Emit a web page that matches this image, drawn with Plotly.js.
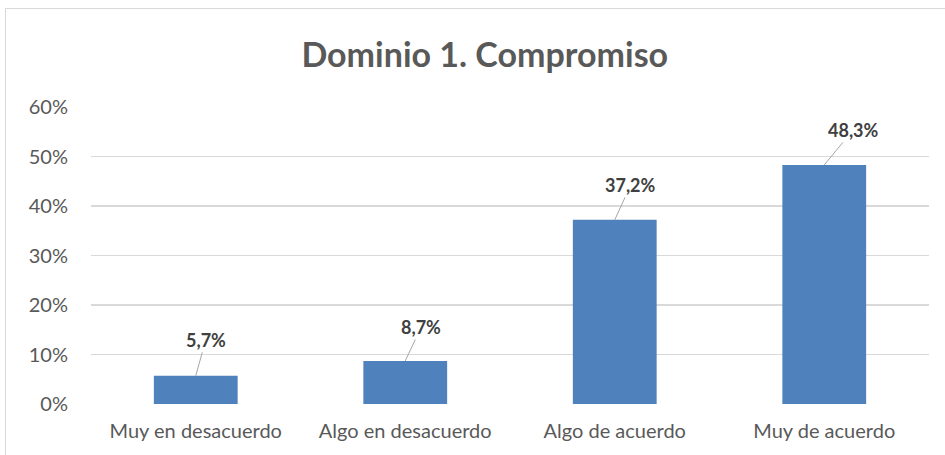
<!DOCTYPE html>
<html>
<head>
<meta charset="utf-8">
<script src="https://cdn.plot.ly/plotly-3.0.1.min.js"></script>
<style>
html,body{margin:0;padding:0;background:#fff;}
#wrap{position:absolute;left:0;top:0;width:945px;height:455px;overflow:hidden;}
#frame{position:absolute;left:5px;top:8px;width:960px;height:470px;border-left:1.5px solid #D9D9D9;border-top:1.5px solid #D9D9D9;}
#chart{position:absolute;left:0;top:0;width:945px;height:455px;}
</style>
</head>
<body>
<div id="wrap"><div id="frame"></div><div id="chart"></div></div>
<script>
const categories = ["Muy en desacuerdo", "Algo en desacuerdo", "Algo de acuerdo", "Muy de acuerdo"];
const values = [0.057, 0.087, 0.372, 0.483];
const yTickVals = [0, 0.1, 0.2, 0.3, 0.4, 0.5, 0.6];
const labelOffsetsX = [10, 16, 16, 29];
const labelOffsetsY = [-36, -34, -35, -35];

const trace = {
  type: 'bar',
  x: categories,
  y: values,
  marker: {color: '#4F81BD'},
  hoverinfo: 'none'
};

const annotations = values.map((v, i) => ({
  x: categories[i], y: v, xref: 'x', yref: 'y',
  text: '<b>' + (v * 100).toFixed(1).replace('.', ',') + '%</b>',
  showarrow: true, arrowhead: 0, arrowwidth: 1, arrowcolor: '#A6A6A6',
  ax: labelOffsetsX[i], ay: labelOffsetsY[i],
  font: {family: 'Lato, sans-serif', size: 18, color: '#404040'}
}));

const layout = {
  width: 945, height: 455,
  margin: {l: 91, r: 16, t: 107, b: 51},
  paper_bgcolor: 'rgba(0,0,0,0)', plot_bgcolor: 'rgba(0,0,0,0)',
  bargap: 0.6,
  showlegend: false,
  separators: ',.',
  title: {
    text: '<b>Dominio 1. Compromiso</b>',
    xref: 'container', yref: 'container', x: 0.513, y: 0.879,
    xanchor: 'center', yanchor: 'middle',
    font: {family: 'Lato, sans-serif', size: 34, color: '#595959'}
  },
  xaxis: {
    type: 'category',
    tickfont: {family: 'Lato, sans-serif', size: 20, color: '#595959'},
    ticks: 'outside', ticklen: 9, tickcolor: 'rgba(0,0,0,0)',
    showgrid: false, zeroline: false, showline: false, fixedrange: true
  },
  yaxis: {
    range: [0, 0.6],
    tickvals: yTickVals,
    tickformat: '.0%',
    tickfont: {family: 'Lato, sans-serif', size: 20, color: '#595959'},
    ticks: 'outside', ticklen: 18, tickcolor: 'rgba(0,0,0,0)',
    showgrid: true, gridcolor: '#D9D9D9', gridwidth: 1.5,
    zeroline: false, showline: false, fixedrange: true
  },
  annotations: annotations
};

Plotly.newPlot('chart', [trace], layout, {displayModeBar: false, staticPlot: true});
</script>
</body>
</html>
